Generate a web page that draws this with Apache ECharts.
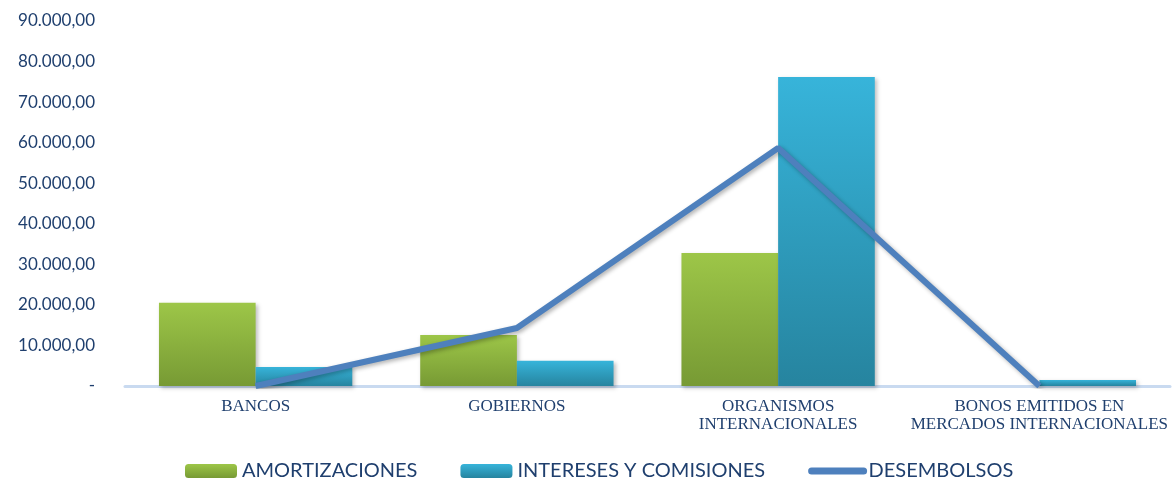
<!DOCTYPE html>
<html lang="es">
<head>
  <meta charset="UTF-8">
  <title>Deuda</title>
  <script src="https://cdn.jsdelivr.net/npm/echarts@6/dist/echarts.min.js"></script>
  <style>
    html, body { margin: 0; padding: 0; background: #fff; }
  </style>
</head>
<body>
  <div id="chart" style="width:1176px;height:482px;"></div>
  <script>
    // datos
    var categorias = ['BANCOS', 'GOBIERNOS', 'ORGANISMOS\nINTERNACIONALES', 'BONOS EMITIDOS EN\nMERCADOS INTERNACIONALES'];
    var amortizaciones = [20500, 12600, 32800, 0];
    var intereses = [4700, 6200, 76200, 1500];
    var desembolsos = [0, 14300, 58700, 0];

    var chart = echarts.init(document.getElementById('chart'));

    function fmt(v) {
      if (v === 0) return '-';
      var s = String(Math.round(v)).replace(/\B(?=(\d{3})+(?!\d))/g, '.');
      return s + ',00';
    }

    function grad(top, bottom) {
      return new echarts.graphic.LinearGradient(0, 0, 0, 1, [
        { offset: 0, color: top },
        { offset: 1, color: bottom }
      ]);
    }

    var option = {
      animation: false,
      grid: { left: 125, right: 6, top: 21, bottom: 96 },
      legend: {
        top: 456,
        left: 180,
        itemWidth: 52,
        itemHeight: 14,
        itemGap: 43,
        textStyle: { fontFamily: 'Lato', fontSize: 20, color: '#1F3F6E' },
        data: [
          'AMORTIZACIONES',
          'INTERESES Y COMISIONES',
          { name: 'DESEMBOLSOS', itemStyle: { opacity: 0 }, lineStyle: { width: 7, cap: 'round' } }
        ]
      },
      xAxis: {
        type: 'category',
        data: categorias,
        axisTick: { show: false },
        axisLine: { lineStyle: { color: '#C9DAF0', width: 3 } },
        axisLabel: {
          interval: 0,
          margin: 12,
          fontFamily: 'Liberation Serif',
          fontSize: 17,
          lineHeight: 18,
          color: '#1F3F6E'
        }
      },
      yAxis: {
        type: 'value',
        min: 0,
        max: 90000,
        interval: 10000,
        splitLine: { show: false },
        axisLine: { show: false },
        axisTick: { show: false },
        axisLabel: {
          formatter: fmt,
          margin: 30,
          fontFamily: 'Lato',
          fontSize: 17,
          color: '#1F3F6E'
        }
      },
      series: [
        {
          name: 'AMORTIZACIONES',
          type: 'bar',
          data: amortizaciones,
          barGap: '0%',
          barCategoryGap: '26%',
          itemStyle: {
            color: grad('#9DC648', '#779A34'),
            shadowBlur: 4,
            shadowOffsetX: 2,
            shadowOffsetY: 2,
            shadowColor: 'rgba(0,0,0,0.25)'
          }
        },
        {
          name: 'INTERESES Y COMISIONES',
          type: 'bar',
          data: intereses,
          itemStyle: {
            color: grad('#37B4DA', '#26849F'),
            shadowBlur: 4,
            shadowOffsetX: 2,
            shadowOffsetY: 2,
            shadowColor: 'rgba(0,0,0,0.25)'
          }
        },
        {
          name: 'DESEMBOLSOS',
          type: 'line',
          data: desembolsos,
          symbol: 'none',
          itemStyle: { color: '#4E80BD' },
          lineStyle: {
            color: '#4E80BD',
            width: 6,
            shadowBlur: 4,
            shadowOffsetX: 2,
            shadowOffsetY: 2,
            shadowColor: 'rgba(0,0,0,0.3)'
          }
        }
      ]
    };

    chart.setOption(option);
  </script>
</body>
</html>
